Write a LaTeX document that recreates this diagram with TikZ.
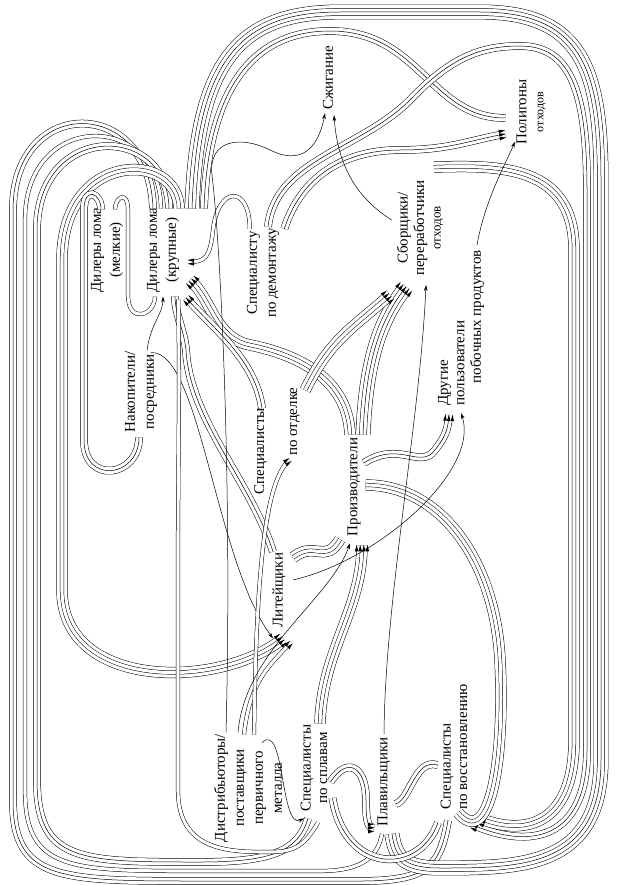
\documentclass[tikz,border=0pt]{standalone}
\usepackage{fontspec}
\setmainfont{Liberation Serif}
\usetikzlibrary{arrows.meta, calc, decorations.markings}
\tikzset{
  lbl/.style={rotate=90, align=center, font=\fontsize{15}{19}\selectfont, inner sep=1pt},
  fan/.style={postaction={decorate, decoration={markings, mark=at position 1 with {\foreach \o in {#1} {\fill[black] (0,\o*3.6) -- (-6,\o*3.6+1.8) -- (-6,\o*3.6-1.8) -- cycle;}}}}},
  lone/.style={draw=black, line width=0.5pt, -{Stealth[length=6pt,width=3.6pt]}},
  ltwo/.style={line join=round, preaction={draw=black, line width=4.1pt}, draw=white, line width=3.1pt, fan={-0.5,0.5}},
  lthree/.style={line join=round, preaction={draw=black, line width=7.7pt}, preaction={draw=white, line width=6.7pt}, draw=black, line width=0.5pt, fan={-1,0,1}},
  lfour/.style={line join=round, preaction={draw=black, line width=11.3pt}, preaction={draw=white, line width=10.3pt}, preaction={draw=black, line width=4.1pt}, draw=white, line width=3.1pt, fan={-1.5,-0.5,0.5,1.5}},
  lfive/.style={line join=round, preaction={draw=black, line width=14.9pt}, preaction={draw=white, line width=13.9pt}, preaction={draw=black, line width=7.7pt}, preaction={draw=white, line width=6.7pt}, draw=black, line width=0.5pt, fan={-2,-1,0,1,2}},
}

\begin{document}
\begin{tikzpicture}[x=1pt, y=-1pt]
\useasboundingbox (0,0) rectangle (618,885);
% participants
\node[lbl] (dsmall) at (107,250) {Дилеры лома\\(мелкие)};
\node[lbl] (dbig) at (163,250) {Дилеры лома\\(крупные)};
\node[lbl] (nakop) at (141,392) {Накопители/\\посредники};
\node[lbl] (demont) at (263,273) {Специалисту\\по демонтажу};
\node[lbl, align=left] (otdel) at (277,441) {Специалисты\\[14pt]\hspace*{2.6em}по отделке};
\node[lbl] (liteyn) at (279,590) {Литейщики};
\node[lbl] (proizv) at (354,487) {Производители};
\node[lbl, font=\fontsize{15}{16.5}\selectfont] (sborsh) at (420,228) {Сборщики/\\переработчики\\{\fontsize{13}{16.5}\selectfont отходов}};
\node[lbl] (szhig) at (328,78) {Сжигание};
\node[lbl, font=\fontsize{15}{17}\selectfont] (polig) at (531,112) {Полигоны\\{\fontsize{12}{17}\selectfont отходов}};
\node[lbl, align=left, font=\fontsize{15}{16.5}\selectfont] (drugie) at (461,328) {Другие\\пользователи\\\hspace*{1.5em}побочных продуктов};
\node[lbl] (distr) at (248,788) {Дистрибьюторы/\\поставщики\\первичного\\металла};
\node[lbl, font=\fontsize{15}{16.5}\selectfont] (splav) at (314,768) {Специалисты\\по сплавам};
\node[lbl] (plav) at (384,782) {Плавильщики};
\node[lbl, align=left, font=\fontsize{15}{16.5}\selectfont] (vosst) at (454,747) {Специалисты\\по восстановлению};

% left loops
\draw[lthree] ($(dbig.east)+(-10,2)$) .. controls (150,95) and (13,95) .. (13,210) -- (13,800) .. controls (13,881) and (60,881) .. (200,881) -- (360,881) .. controls (430,881) and (440,865) .. ($(vosst.west)+(-6,10)$);
\draw[ltwo] ($(dbig.east)+(-2,2)$) .. controls (160,110) and (25,110) .. (25,220) -- (25,790) .. controls (25,871) and (70,871) .. (200,871) -- (320,871) .. controls (365,871) and (378,855) .. ($(plav.west)+(-2,6)$);
\draw[lthree] ($(dbig.east)+(6,2)$) .. controls (168,122) and (37,122) .. (37,230) -- (37,780) .. controls (37,862) and (80,862) .. (200,862) .. controls (270,862) and (298,852) .. ($(splav.west)+(-6,6)$);
\draw[lfour] ($(dbig.east)+(16,2)$) .. controls (178,150) and (62,150) .. (62,260) -- (62,590) .. controls (62,690) and (220,690) .. ($(liteyn.west)+(4,10)$);
\draw[lthree] ($(dsmall.east)+(-6,3)$) .. controls ($(dsmall.east)+(-6,-14)$) and (84,186) .. (84,210) -- (84,440) .. controls (84,485) and ($(nakop.west)+(-2,44)$) .. ($(nakop.west)+(-2,4)$);
\draw[ltwo] ($(dsmall.east)+(8,3)$) .. controls ($(dsmall.east)+(8,-10)$) and (128,190) .. (128,210) -- (128,295) .. controls (128,325) and ($(dbig.west)+(-8,22)$) .. ($(dbig.west)+(-8,3)$);
\draw[lone] ($(nakop.east)+(6,0)$) .. controls (150,325) and ($(dbig.west)+(0,20)$) .. ($(dbig.west)+(0,3)$);
\draw[lone] ($(nakop.east)+(10,2)$) .. controls (200,350) and (215,560) .. ($(liteyn.west)+(-6,10)$);

% top and right loops
\draw[lfive] ($(dbig.east)+(29,2)$) .. controls (197,60) and (240,12) .. (340,12) -- (480,12) .. controls (582,12) and (601,70) .. (601,180) -- (601,760) .. controls (601,868) and (520,868) .. (440,868) .. controls (405,868) and (395,858) .. ($(plav.west)+(8,6)$);
\draw[lthree] ($(dbig.east)+(41,2)$) .. controls (208,90) and (252,31) .. (330,31) .. controls (420,31) and (430,118) .. ($(polig.north)+(-10,6)$);
\draw[lthree] ($(demont.east)+(5,0)$) .. controls (275,160) and (360,150) .. (410,100) .. controls (450,58) and (480,46) .. (520,46) .. controls (570,46) and (587,90) .. (587,190) -- (587,750) .. controls (587,840) and (530,850) .. ($(vosst.west)+(18,14)$);
\draw[lthree] ($(demont.south east)+(4,2)$) .. controls (300,180) and (340,150) .. (400,150) .. controls (450,150) and (470,140) .. ($(polig.north)+(-10,22)$);
\draw[lfour] ($(sborsh.east)+(14,-12)$) .. controls (500,165) and (574,165) .. (574,250) -- (574,740) .. controls (574,820) and (530,838) .. ($(vosst.west)+(26,8)$);
\draw[ltwo] ($(demont.north east)+(4,2)$) .. controls (250,185) and (218,185) .. (213,230) .. controls (210,258) and (205,262) .. ($(dbig.south)+(8,12)$);

% centre
\draw[lfour] ($(proizv.east)+(-4,-2)$) .. controls (348,380) and (300,355) .. (250,345) .. controls (215,338) and (212,300) .. ($(dbig.south)+(10,30)$);
\draw[lthree] ($(otdel.east)+(-15,22)$) .. controls (255,360) and (215,330) .. ($(dbig.south)+(6,48)$);
\draw[lthree] ($(liteyn.east)+(-6,0)$) .. controls (250,480) and (190,420) .. (186,350) .. controls (184,330) and ($(dbig.west)+(12,20)$) .. ($(dbig.west)+(12,3)$);
\draw[lfour] ($(liteyn.south east)+(6,6)$) .. controls (315,540) and (325,565) .. ($(proizv.west)+(-14,2)$);
\draw[lfour] ($(splav.east)+(6,0)$) .. controls (322,650) and (362,610) .. ($(proizv.west)+(8,8)$);
\draw[lfive] ($(proizv.east)+(9,-2)$) .. controls (366,360) and (380,320) .. ($(sborsh.west)+(-14,10)$);
\draw[lfour] ($(otdel.south east)+(4,4)$) .. controls (330,340) and (350,330) .. ($(sborsh.west)+(-30,18)$);
\draw[lthree] ($(proizv.south)+(2,-24)$) .. controls (400,440) and (420,470) .. (435,450) .. controls (445,437) and (448,430) .. ($(drugie.west)+(-12,8)$);
\draw[lfour] ($(proizv.south)+(4,-2)$) .. controls (440,485) and (495,560) .. (500,660) .. controls (505,760) and (490,850) .. ($(vosst.west)+(4,2)$);
\draw[lthree] ($(vosst.north)+(-2,18)$) .. controls (415,758) and (410,800) .. ($(plav.south)+(4,22)$);
\draw[lthree] ($(splav.south)+(2,14)$) .. controls (348,755) and (366,768) .. (366,800) .. controls (366,822) and (368,828) .. ($(plav.west)+(-10,0)$);
\draw[lthree] ($(splav.south)+(4,30)$) .. controls (345,875) and (420,875) .. ($(vosst.west)+(-16,12)$);
\draw[ltwo] ($(distr.east)+(-4,2)$) .. controls (250,680) and (270,665) .. ($(liteyn.west)+(12,14)$);
\draw[ltwo] ($(distr.east)+(6,2)$) .. controls (256,600) and (262,480) .. ($(otdel.west)+(13,-36)$);
\draw[ltwo] ($(dbig.south west)+(-2,6)$) .. controls (180,400) and (178,450) .. (178,560) -- (178,790) .. controls (178,852) and (230,852) .. (270,852) .. controls (295,852) and (305,845) .. ($(splav.west)+(4,10)$);

% single lines
\draw[lone] ($(distr.east)+(-22,0)$) .. controls (232,500) and (222,260) .. (212,175) .. controls (208,140) and (240,135) .. (270,150) .. controls (300,165) and (318,150) .. ($(szhig.west)+(-3,2)$);
\draw[lone] ($(sborsh.north)+(-4,-8)$) .. controls (360,200) and (338,170) .. ($(szhig.west)+(6,4)$);
\draw[lone] ($(drugie.east)+(16,-4)$) .. controls (485,200) and (505,165) .. ($(polig.west)+(-16,-4)$);
\draw[lone] ($(distr.east)+(-10,0)$) .. controls (245,650) and (330,600) .. ($(proizv.west)+(-4,6)$);
\draw[lone] ($(plav.east)+(0,-2)$) .. controls (385,600) and (420,420) .. ($(sborsh.west)+(6,8)$);
\draw[lone] ($(distr.east)+(14,10)$) .. controls (285,720) and (280,830) .. ($(splav.west)+(-10,6)$);
\draw[lone] ($(liteyn.south)+(6,-10)$) .. controls (380,560) and (480,470) .. ($(drugie.west)+(0,6)$);
\end{tikzpicture}
\end{document}
